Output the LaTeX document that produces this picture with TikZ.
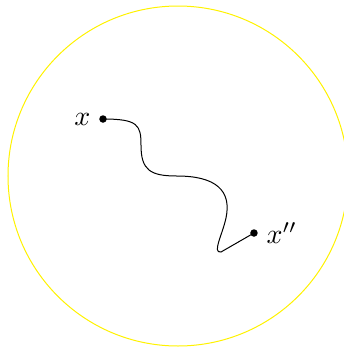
\documentclass[tikz,border=0pt]{standalone}
\begin{document}
\begin{tikzpicture}[x=0.4pt,y=-0.4pt,
  dot/.style={circle,fill=black,inner sep=0pt,minimum size=3pt},
  lbl/.style={inner sep=2.8pt,scale=1.12},
  region/.style={yellow,line width=0.4pt},
  pathline/.style={black,line width=0.4pt}]
\useasboundingbox (0,0) rectangle (344,349);
\draw[region] (178,176) circle[radius=170];
\node[dot,label={[lbl]left:$x$}] (a) at (103,119) {};
\node[dot,label={[lbl]right:$x''$}] (b) at (254,233) {};
\coordinate (c1) at (141,145);
\coordinate (c2) at (177,176);
\coordinate (c3) at (226,218);
\coordinate (c4) at (221,252);
\draw[pathline] (a.center) .. controls (138,119) and (141,125) .. (c1)
  .. controls (141,170) and (150,176) .. (c2)
  .. controls (215,176) and (232,190) .. (c3)
  .. controls (222,236) and (212,253) .. (c4)
  -- (b.center);
\end{tikzpicture}
\end{document}
